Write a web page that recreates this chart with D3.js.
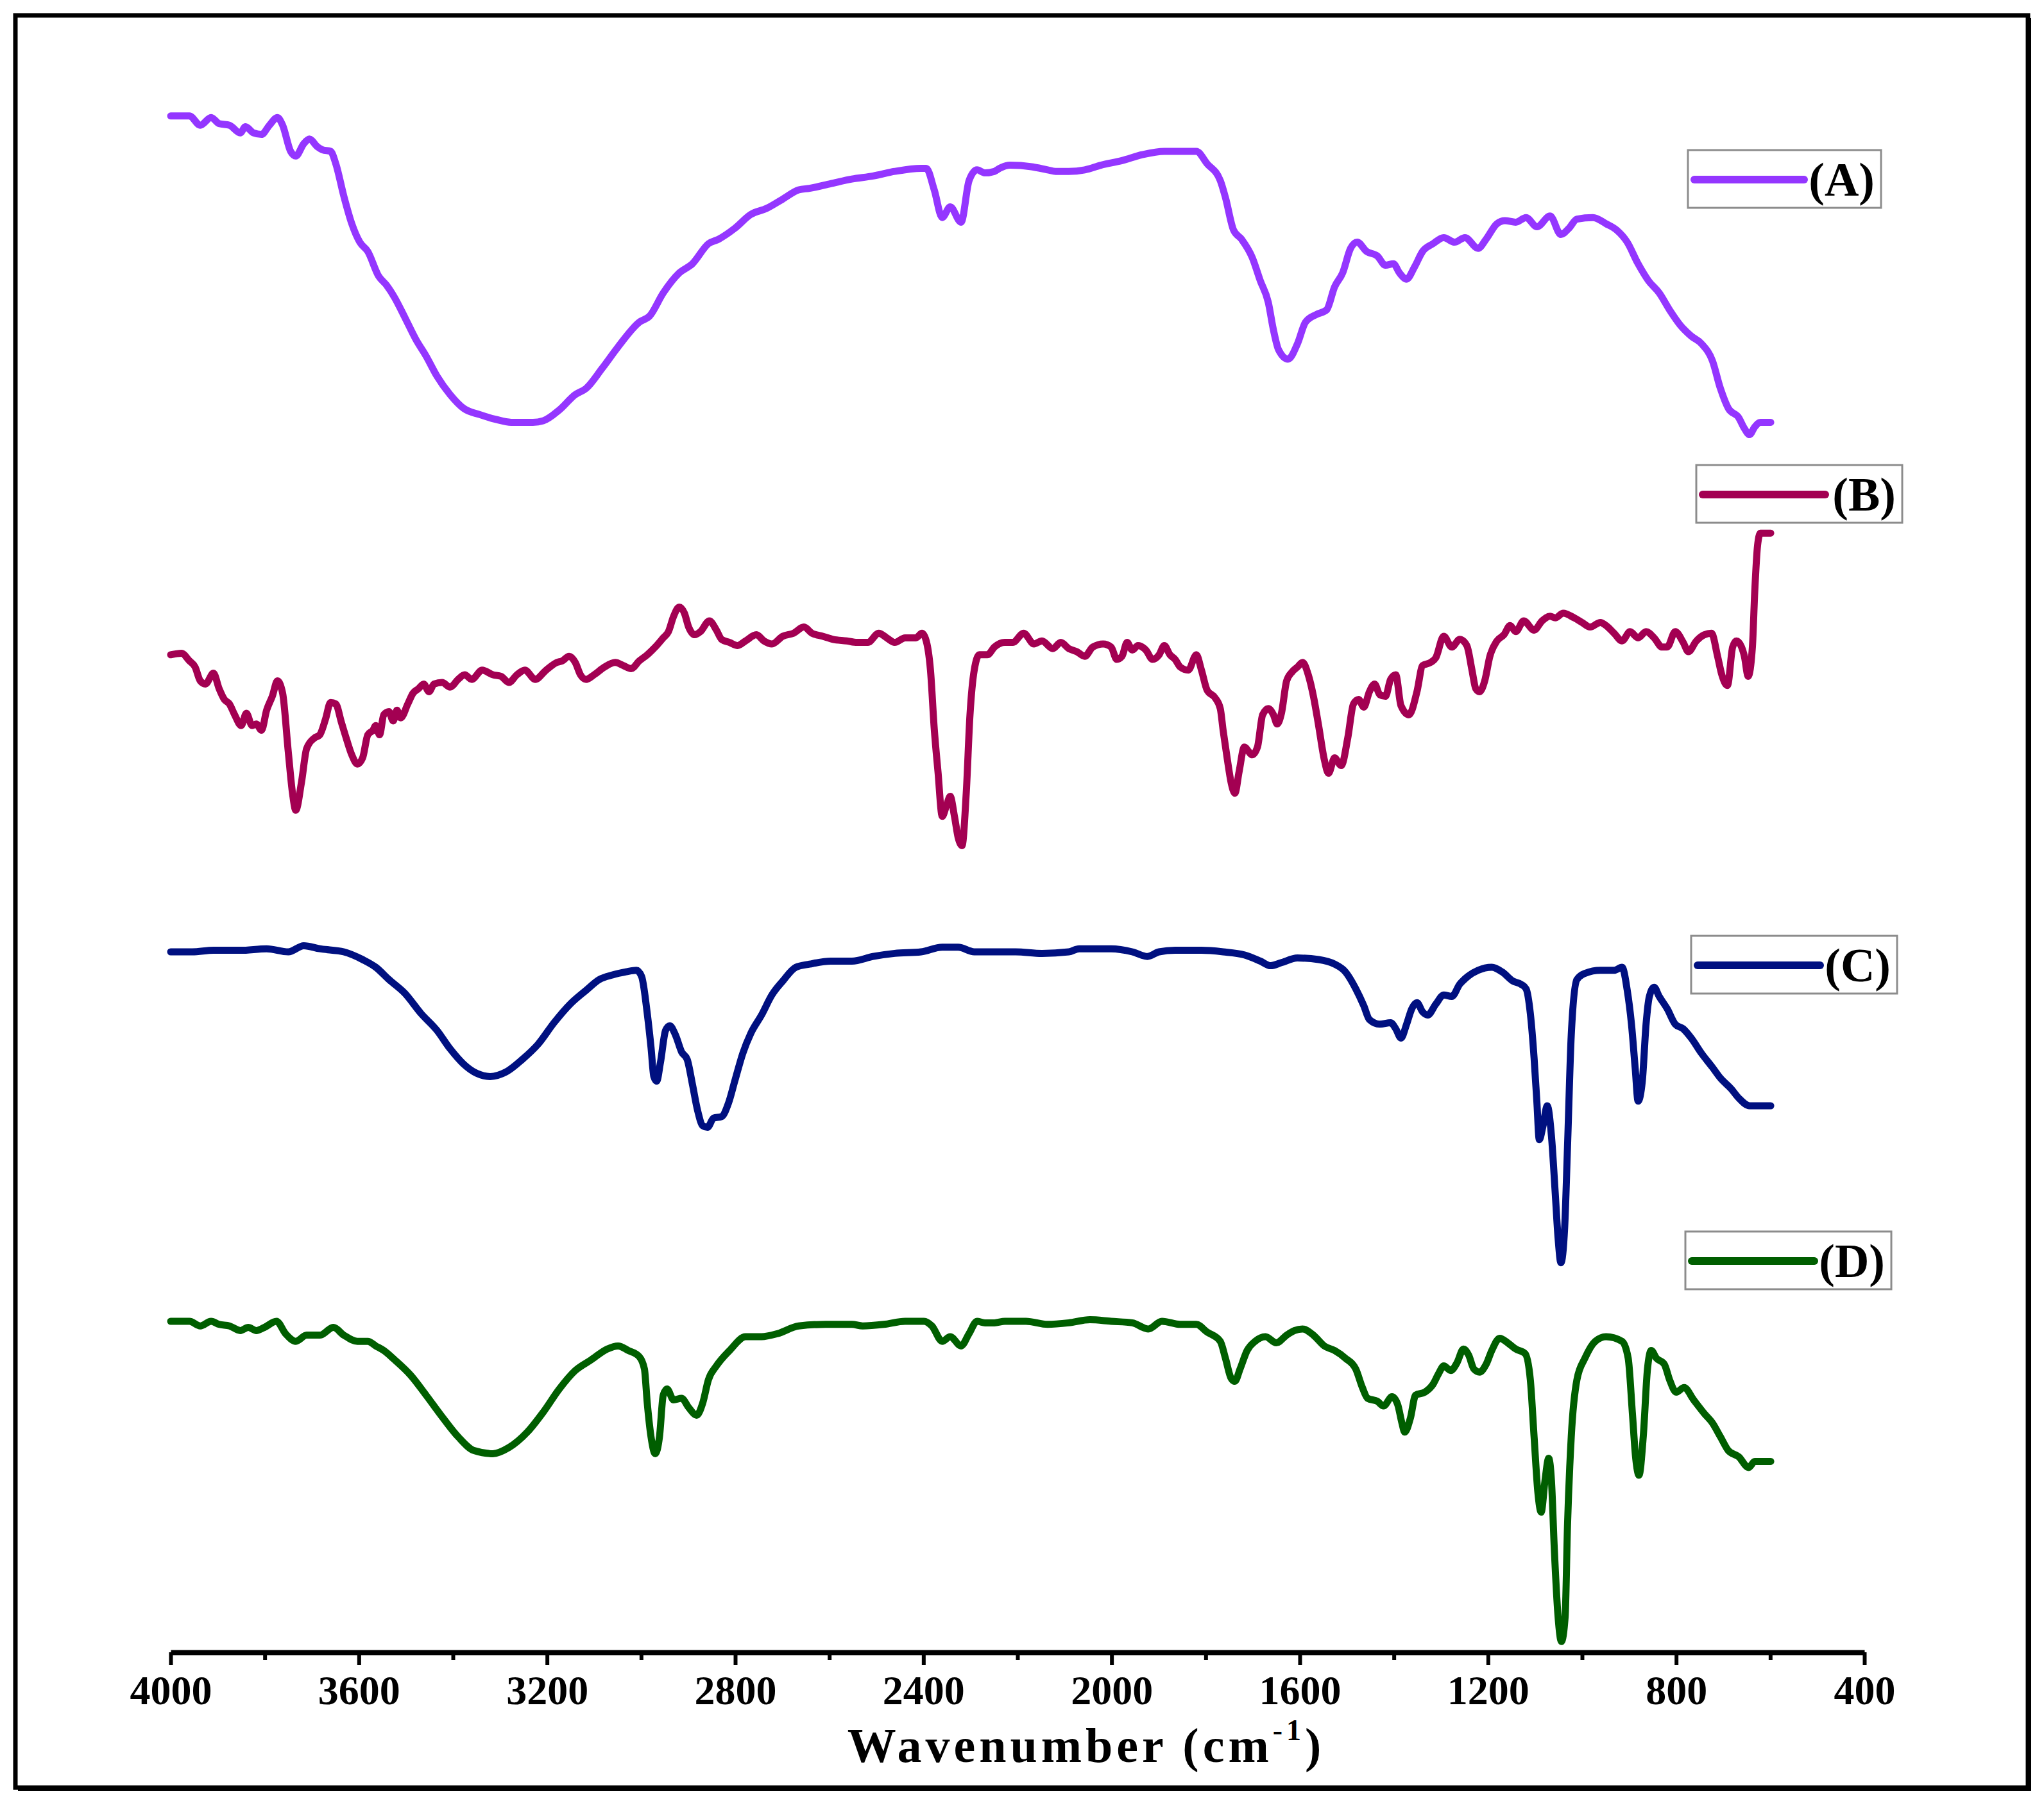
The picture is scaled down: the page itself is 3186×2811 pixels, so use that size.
<!DOCTYPE html>
<html>
<head>
<meta charset="utf-8">
<script src="https://cdn.jsdelivr.net/npm/d3@7"></script>
<style>
  body { margin: 0; background: #fff; }
  svg { display: block; }
</style>
</head>
<body>
<svg id="chart" width="3186" height="2811"></svg>
<script>
const width = 3186;
const height = 2811;

// FTIR spectra, [wavenumber cm-1, stacked transmittance a.u.]
const specA = [
  [4000,99.8],[3960,99.8],[3937,99.2],[3914,99.7],[3897,99.3],[3875,99.2],[3852,98.7],[3841,99.1],[3824,98.7],[3807,98.6],
  [3790,99.2],[3773,99.7],[3762,99.2],[3745,97.5],[3734,97.2],[3717,98.0],[3705,98.3],[3688,97.8],[3677,97.6],[3660,97.5],
  [3649,96.7],[3632,94.6],[3615,92.8],[3598,91.6],[3581,91.0],[3558,89.4],[3541,88.8],[3524,88.0],[3502,86.7],[3479,85.3],
  [3457,84.2],[3434,82.9],[3406,81.7],[3377,80.8],[3343,80.4],[3310,80.1],[3276,79.9],[3230,79.9],[3208,80.0],[3174,80.7],
  [3140,81.7],[3117,82.1],[3083,83.4],[3049,84.8],[3004,86.4],[2982,86.8],[2953,88.3],[2919,89.6],[2891,90.2],[2857,91.5],
  [2835,91.8],[2801,92.5],[2767,93.4],[2733,93.8],[2699,94.4],[2665,95.0],[2642,95.1],[2597,95.4],[2552,95.7],[2507,95.9],
  [2461,96.2],[2405,96.4],[2394,96.4],[2377,95.0],[2360,93.2],[2343,93.9],[2320,92.9],[2303,95.6],[2286,96.3],[2269,96.1],
  [2249,96.2],[2238,96.4],[2216,96.6],[2170,96.5],[2136,96.3],[2119,96.2],[2091,96.2],[2057,96.3],[2023,96.6],[1978,96.9],
  [1933,97.3],[1888,97.5],[1854,97.5],[1820,97.5],[1797,96.7],[1769,95.6],[1758,94.5],[1741,92.4],[1724,91.8],[1701,90.6],
  [1684,89.1],[1667,87.7],[1656,85.9],[1645,84.6],[1625,84.0],[1605,85.0],[1588,86.4],[1565,86.9],[1543,87.2],[1526,88.7],
  [1509,89.6],[1492,91.2],[1478,91.6],[1458,91.0],[1435,90.7],[1418,90.1],[1401,90.2],[1388,89.6],[1373,89.2],[1356,90.0],
  [1339,91.0],[1317,91.5],[1294,91.9],[1271,91.6],[1249,91.9],[1221,91.2],[1204,91.8],[1181,92.8],[1164,93.0],[1141,92.9],
  [1119,93.2],[1096,92.6],[1068,93.3],[1045,92.1],[1028,92.5],[1011,93.1],[977,93.2],[949,92.8],[927,92.4],[904,91.6],
  [881,90.2],[859,89.1],[836,88.3],[814,87.2],[791,86.2],[768,85.5],[746,85.0],[723,83.9],[706,82.1],[689,80.8],
  [667,80.2],[655,79.5],[644,79.1],[633,79.6],[621,79.9],[599,79.9]
];

const specB = [
  [4000,64.8],[3977,64.9],[3960,64.4],[3948,64.0],[3937,63.1],[3926,62.9],[3909,63.6],[3897,62.6],[3886,61.9],[3875,61.6],
  [3864,60.9],[3850,60.2],[3839,61.0],[3827,60.2],[3818,60.3],[3807,59.9],[3796,61.2],[3784,62.1],[3773,63.1],[3762,62.3],
  [3750,58.5],[3741,55.8],[3734,54.7],[3722,56.5],[3711,58.7],[3694,59.4],[3683,59.6],[3671,60.6],[3660,61.7],[3649,61.6],
  [3637,60.4],[3626,59.3],[3615,58.3],[3603,57.7],[3592,58.1],[3581,59.6],[3570,59.9],[3564,60.2],[3556,59.6],[3547,60.9],
  [3536,61.1],[3527,60.5],[3519,61.2],[3511,60.7],[3496,61.6],[3485,62.3],[3473,62.6],[3462,62.9],[3451,62.4],[3440,62.9],
  [3423,63.0],[3406,62.7],[3389,63.2],[3375,63.5],[3360,63.2],[3338,63.8],[3315,63.5],[3298,63.4],[3281,63.0],[3264,63.5],
  [3247,63.8],[3225,63.2],[3202,63.8],[3179,64.3],[3168,64.4],[3153,64.7],[3140,64.3],[3129,63.5],[3117,63.2],[3100,63.5],
  [3078,64.0],[3055,64.3],[3038,64.1],[3021,63.9],[3004,64.4],[2987,64.8],[2970,65.3],[2953,65.9],[2942,66.3],[2931,67.3],
  [2919,67.9],[2908,67.5],[2899,66.6],[2886,66.1],[2874,66.3],[2855,67.0],[2840,66.4],[2829,65.8],[2812,65.6],[2795,65.4],
  [2778,65.7],[2755,66.1],[2739,65.7],[2722,65.5],[2699,66.0],[2676,66.2],[2654,66.6],[2637,66.2],[2614,66.0],[2592,65.8],
  [2563,65.7],[2541,65.6],[2518,65.6],[2495,66.2],[2478,65.9],[2461,65.6],[2439,65.9],[2416,65.9],[2403,66.2],[2394,65.7],
  [2385,63.8],[2377,60.0],[2369,57.2],[2360,54.3],[2351,55.0],[2343,55.6],[2334,54.3],[2326,52.9],[2318,52.4],[2309,55.8],
  [2301,60.9],[2292,63.8],[2281,64.8],[2264,64.8],[2249,65.3],[2227,65.6],[2210,65.6],[2187,66.2],[2165,65.5],[2148,65.7],
  [2125,65.2],[2108,65.6],[2091,65.2],[2074,65.0],[2057,64.7],[2040,65.3],[2018,65.5],[2001,65.3],[1989,64.5],[1978,64.7],
  [1967,65.6],[1956,65.1],[1944,65.4],[1927,65.1],[1913,64.5],[1899,64.8],[1888,65.4],[1876,64.8],[1865,64.5],[1854,64.0],
  [1837,63.8],[1820,64.8],[1809,63.8],[1797,62.5],[1780,62.0],[1769,61.3],[1763,59.9],[1754,58.0],[1746,56.5],[1738,55.8],
  [1729,57.2],[1718,58.8],[1701,58.3],[1690,58.8],[1679,60.9],[1667,61.3],[1656,60.9],[1648,60.3],[1639,61.0],[1628,63.1],
  [1616,63.7],[1605,64.0],[1594,64.3],[1582,63.5],[1571,62.1],[1560,60.2],[1548,58.0],[1539,57.1],[1526,58.1],[1512,57.6],
  [1498,59.4],[1486,61.6],[1475,61.9],[1464,61.4],[1452,62.4],[1441,62.9],[1430,62.2],[1418,62.1],[1407,63.2],[1396,63.5],
  [1385,61.5],[1368,60.9],[1351,62.4],[1339,64.1],[1322,64.3],[1311,64.6],[1294,66.0],[1277,65.3],[1260,65.8],[1245,65.4],
  [1234,63.8],[1226,62.6],[1218,62.4],[1207,63.1],[1196,64.7],[1181,65.7],[1166,66.1],[1153,66.7],[1141,66.3],[1124,67.0],
  [1102,66.4],[1085,67.0],[1068,67.3],[1057,67.2],[1040,67.5],[1017,67.2],[1000,66.9],[983,66.6],[961,66.9],[949,66.7],
  [932,66.2],[915,65.7],[898,66.3],[881,65.9],[864,66.3],[847,65.9],[830,65.3],[819,65.3],[802,66.3],[785,65.6],
  [774,65.0],[757,65.7],[740,66.1],[725,66.2],[712,64.7],[703,63.5],[691,62.8],[680,65.3],[672,65.7],[661,65.3],
  [655,64.7],[647,63.4],[638,65.3],[633,68.9],[627,71.9],[621,72.7],[599,72.7]
];

const specC = [
  [4000,45.5],[3954,45.5],[3909,45.6],[3852,45.6],[3796,45.7],[3750,45.5],[3717,45.9],[3683,45.7],[3632,45.5],[3592,45.0],
  [3564,44.5],[3536,43.7],[3502,42.8],[3468,41.5],[3434,40.4],[3406,39.2],[3377,38.2],[3349,37.6],[3321,37.4],[3287,37.7],
  [3253,38.5],[3219,39.5],[3185,40.9],[3151,42.1],[3117,43.0],[3089,43.7],[3061,44.0],[3032,44.2],[3010,44.3],[2999,43.9],
  [2987,41.5],[2979,39.3],[2973,37.4],[2967,37.1],[2959,38.3],[2948,40.4],[2939,40.7],[2927,40.1],[2914,39.0],[2902,38.5],
  [2891,36.9],[2880,35.2],[2869,34.2],[2859,34.1],[2846,34.7],[2829,34.8],[2814,35.7],[2801,37.1],[2784,38.9],[2767,40.2],
  [2744,41.4],[2722,42.7],[2699,43.6],[2671,44.5],[2642,44.7],[2597,44.9],[2552,44.9],[2507,45.2],[2461,45.4],[2405,45.5],
  [2360,45.8],[2326,45.8],[2292,45.5],[2249,45.5],[2204,45.5],[2148,45.4],[2091,45.5],[2069,45.7],[2001,45.7],[1956,45.5],
  [1924,45.2],[1899,45.5],[1865,45.6],[1809,45.6],[1763,45.5],[1718,45.3],[1684,44.9],[1662,44.6],[1639,44.8],[1605,45.1],
  [1560,45.0],[1526,44.7],[1503,44.2],[1481,43.1],[1464,42.0],[1452,41.1],[1430,40.8],[1407,40.9],[1396,40.5],[1385,39.9],
  [1373,40.8],[1362,41.8],[1351,42.2],[1339,41.6],[1328,41.4],[1311,42.1],[1294,42.7],[1277,42.6],[1260,43.4],[1243,43.9],
  [1221,44.3],[1192,44.5],[1170,44.2],[1147,43.6],[1130,43.4],[1119,43.1],[1110,41.5],[1102,38.6],[1096,35.7],[1091,33.3],
  [1083,34.2],[1074,35.5],[1065,33.5],[1057,29.8],[1051,26.9],[1045,25.3],[1037,27.6],[1031,32.8],[1023,40.1],[1011,43.7],
  [994,44.1],[961,44.3],[932,44.3],[915,44.5],[904,43.0],[895,40.8],[887,37.9],[881,35.8],[872,37.1],[864,40.8],
  [857,42.6],[847,43.2],[836,42.6],[819,41.8],[802,40.8],[785,40.5],[768,39.9],[746,38.9],[723,38.0],[706,37.3],
  [683,36.6],[667,36.0],[644,35.5],[621,35.5],[599,35.5]
];

const specD = [
  [4000,21.5],[3960,21.5],[3937,21.2],[3914,21.5],[3897,21.3],[3875,21.2],[3852,20.9],[3835,21.1],[3818,20.9],[3801,21.1],
  [3775,21.5],[3756,20.7],[3734,20.2],[3711,20.6],[3683,20.6],[3654,21.1],[3632,20.6],[3603,20.2],[3581,20.2],[3564,19.9],
  [3547,19.6],[3524,19.0],[3490,18.0],[3457,16.7],[3423,15.3],[3389,14.0],[3355,13.1],[3315,12.9],[3281,13.3],[3242,14.3],
  [3208,15.6],[3174,17.1],[3140,18.3],[3106,19.0],[3072,19.7],[3049,19.9],[3027,19.6],[3004,19.2],[2993,18.4],[2987,16.2],
  [2979,14.0],[2970,12.9],[2961,14.0],[2953,16.7],[2945,17.1],[2931,16.4],[2914,16.5],[2899,15.9],[2882,15.4],[2869,16.2],
  [2857,17.7],[2840,18.6],[2812,19.6],[2778,20.5],[2744,20.5],[2710,20.7],[2665,21.2],[2608,21.3],[2552,21.3],[2529,21.2],
  [2484,21.3],[2439,21.5],[2399,21.5],[2382,21.2],[2360,20.2],[2343,20.5],[2320,19.9],[2303,20.7],[2286,21.5],[2269,21.4],
  [2249,21.4],[2227,21.5],[2182,21.5],[2136,21.3],[2091,21.4],[2046,21.6],[2001,21.5],[1956,21.4],[1922,21.0],[1893,21.5],
  [1854,21.3],[1820,21.3],[1797,20.8],[1769,20.2],[1758,19.1],[1746,17.8],[1738,17.6],[1727,18.4],[1712,19.6],[1695,20.2],
  [1673,20.5],[1650,20.1],[1628,20.6],[1611,20.9],[1594,21.0],[1571,20.6],[1548,19.9],[1526,19.6],[1503,19.1],[1481,18.4],
  [1467,17.2],[1456,16.5],[1435,16.3],[1422,16.0],[1404,16.6],[1392,16.1],[1383,14.9],[1377,14.3],[1365,15.2],[1354,16.7],
  [1334,16.9],[1317,17.4],[1305,18.1],[1294,18.6],[1279,18.3],[1266,18.8],[1252,19.7],[1241,19.3],[1230,18.4],[1218,18.2],
  [1204,18.7],[1192,19.6],[1175,20.4],[1158,20.1],[1141,19.7],[1121,19.4],[1110,17.7],[1102,14.0],[1094,10.4],[1087,9.1],
  [1079,11.1],[1071,12.6],[1065,11.1],[1059,6.7],[1051,2.3],[1044,0.7],[1036,2.3],[1031,8.2],[1023,14.0],[1011,17.7],
  [994,19.1],[972,20.2],[949,20.5],[915,20.2],[902,19.1],[893,15.5],[886,12.6],[879,11.5],[870,14.0],[861,18.4],
  [853,19.6],[842,19.1],[825,18.7],[814,17.7],[800,16.9],[783,17.2],[763,16.4],[740,15.5],[723,14.9],[706,14.0],
  [689,13.1],[667,12.7],[646,12.0],[633,12.4],[599,12.4]
];

const seriesNames = ["(A)", "(B)", "(C)", "(D)"];
const seriesColors = ["#9436ff", "#a30052", "#001080", "#005e00"];
const majorTicks = [4000, 3600, 3200, 2800, 2400, 2000, 1600, 1200, 800, 400];
const minorTicks = [3800, 3400, 3000, 2600, 2200, 1800, 1400, 1000, 600];
const xTitle = "Wavenumber (cm";
const xTitleSup = "-1";

const spectra = [specA, specB, specC, specD];

// legend boxes (layout)
const legendBoxes = [
  { x: 2631, y: 234, w: 301 },
  { x: 2644, y: 725, w: 321 },
  { x: 2636, y: 1459, w: 321 },
  { x: 2627, y: 1920, w: 321 }
];

const serif = "'Liberation Serif', 'Times New Roman', serif";
const axisY = 2576;

const x = d3.scaleLinear().domain([4000, 400]).range([266, 2906]);
const y = d3.scaleLinear().domain([0, 100]).range([axisY, axisY - 2400]);

const svg = d3.select("#chart");

svg.append("rect")
  .attr("width", width)
  .attr("height", height)
  .attr("fill", "#fff");

// outer frame, slightly heavier on the right and bottom
svg.append("rect")
  .attr("x", 24)
  .attr("y", 24)
  .attr("width", 3137)
  .attr("height", 2763)
  .attr("fill", "none")
  .attr("stroke", "#000")
  .attr("stroke-width", 7);
svg.append("path")
  .attr("d", "M3164,28V2790H28")
  .attr("fill", "none")
  .attr("stroke", "#000")
  .attr("stroke-width", 4);

let line = d3
  .line()
  .x(d => x(d[0]))
  .y(d => y(d[1]))
  .curve(d3.curveMonotoneX);

svg.append("g")
  .selectAll("path")
  .data(spectra)
  .join("path")
  .attr("d", line)
  .attr("fill", "none")
  .attr("stroke", (d, i) => seriesColors[i])
  .attr("stroke-width", 11)
  .attr("stroke-linejoin", "round")
  .attr("stroke-linecap", "round");

// x axis
const gMinor = svg.append("g")
  .attr("transform", `translate(0,${axisY})`)
  .call(d3.axisBottom(x).tickValues(minorTicks).tickSize(12).tickFormat(""));
gMinor.select(".domain").remove();
gMinor.selectAll(".tick line").attr("stroke-width", 6);

const gx = svg.append("g")
  .attr("transform", `translate(0,${axisY})`)
  .call(d3.axisBottom(x).tickValues(majorTicks).tickSize(20).tickSizeOuter(0).tickPadding(16).tickFormat(d3.format("d")));

gx.select(".domain").attr("stroke-width", 8).attr("stroke", "#000");
gx.selectAll(".tick line").attr("stroke-width", 6);
gx.selectAll(".tick text")
  .attr("font-family", serif)
  .attr("font-weight", "bold")
  .attr("font-size", 64)
  .attr("fill", "#000");

const title = svg.append("text")
  .attr("x", 1693)
  .attr("y", 2747)
  .attr("text-anchor", "middle")
  .attr("font-family", serif)
  .attr("font-weight", "bold")
  .attr("font-size", 76)
  .attr("letter-spacing", 6)
  .text(xTitle);
title.append("tspan")
  .attr("font-size", 46)
  .attr("dy", -34)
  .text(xTitleSup);
title.append("tspan")
  .attr("dy", 34)
  .text(")");

// legends
const lg = svg.append("g")
  .selectAll("g")
  .data(legendBoxes)
  .join("g")
  .attr("transform", d => `translate(${d.x},${d.y})`);

lg.append("rect")
  .attr("width", d => d.w)
  .attr("height", 90)
  .attr("fill", "#fff")
  .attr("stroke", "#8c8c8c")
  .attr("stroke-width", 3);

lg.append("line")
  .attr("x1", 10)
  .attr("x2", d => d.w - 120)
  .attr("y1", 46)
  .attr("y2", 46)
  .attr("stroke", (d, i) => seriesColors[i])
  .attr("stroke-width", 12)
  .attr("stroke-linecap", "round");

lg.append("text")
  .attr("x", d => d.w - 10)
  .attr("y", 71)
  .attr("text-anchor", "end")
  .attr("font-family", serif)
  .attr("font-weight", "bold")
  .attr("font-size", 74)
  .text((d, i) => seriesNames[i]);
</script>
</body>
</html>
